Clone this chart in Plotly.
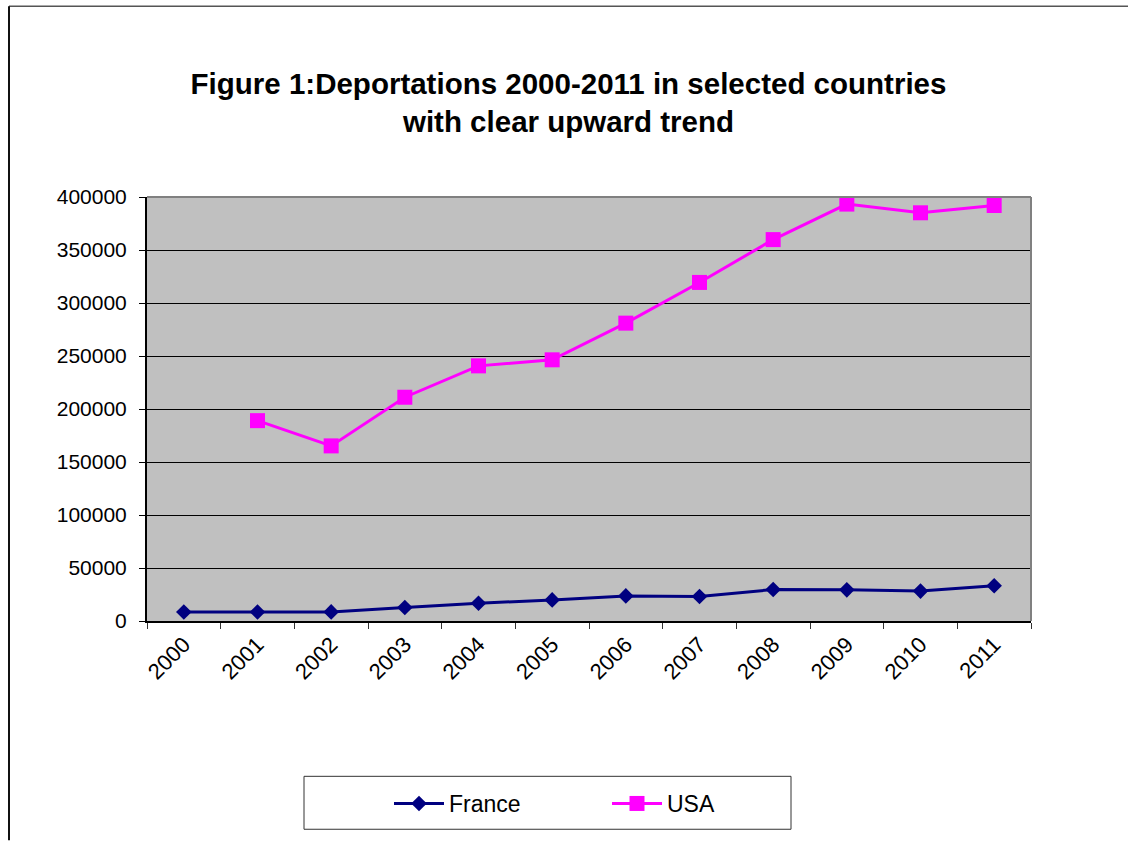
import plotly.graph_objects as go

# Deportations by year
years = ["2000", "2001", "2002", "2003", "2004", "2005",
         "2006", "2007", "2008", "2009", "2010", "2011"]
france = [8500, 8500, 8600, 12700, 16800, 19900,
          23700, 23100, 29700, 29400, 28200, 33200]
usa = [None, 189000, 165200, 211100, 240700, 246400,
       281000, 319400, 359800, 393300, 385100, 392000]

y_ticks = [0, 50000, 100000, 150000, 200000, 250000, 300000, 350000, 400000]

W, H = 1129, 841
L, R, T, B = 147, 1031, 197, 621.5
FONT = "Liberation Sans, Arial, sans-serif"


def px_x(x):
    return (x - L) / (R - L)


def px_y(y):
    return (B - y) / (B - T)


fig = go.Figure()
fig.add_trace(go.Scatter(
    x=years, y=france, name="France", mode="lines+markers",
    line=dict(color="#000080", width=3),
    marker=dict(symbol="diamond", size=12, color="#000080"),
))
fig.add_trace(go.Scatter(
    x=years, y=usa, name="USA", mode="lines+markers",
    line=dict(color="#FF00FF", width=3),
    marker=dict(symbol="square", size=15, color="#FF00FF"),
))

shapes = [
    # plot area frame: top and right edges
    dict(type="line", xref="paper", yref="paper", x0=0, x1=1, y0=1, y1=1,
         line=dict(color="#808080", width=2), layer="above"),
    dict(type="line", xref="paper", yref="paper", x0=1, x1=1, y0=0, y1=1,
         line=dict(color="#808080", width=2), layer="above"),
    # outer chart frame
    dict(type="line", xref="paper", yref="paper",
         x0=px_x(9), x1=px_x(1128), y0=px_y(6), y1=px_y(6),
         line=dict(color="#555555", width=1.5)),
    dict(type="line", xref="paper", yref="paper",
         x0=px_x(9), x1=px_x(9), y0=px_y(6), y1=px_y(841),
         line=dict(color="#111111", width=2)),
    # legend box
    dict(type="rect", xref="paper", yref="paper",
         x0=px_x(304), x1=px_x(791), y0=px_y(777), y1=px_y(830),
         line=dict(color="#333333", width=1), fillcolor="white", layer="below"),
]

fig.update_layout(
    width=W, height=H,
    margin=dict(l=L, r=W - R, t=T, b=H - B),
    paper_bgcolor="white",
    plot_bgcolor="#C0C0C0",
    font=dict(family=FONT, color="black", size=21),
    title=dict(
        text="<b>Figure 1:Deportations 2000-2011 in selected countries<br>with clear upward trend</b>",
        font=dict(family=FONT, size=29.5, color="black"),
        x=568.5 / W, xanchor="center", xref="container",
        y=1 - 94 / H, yanchor="top", yref="container",
    ),
    xaxis=dict(
        type="category", tickson="boundaries", ticks="outside", ticklen=6,
        tickcolor="#333333", tickangle=-45, showgrid=False,
        showline=True, linecolor="black", linewidth=2,
        tickfont=dict(family=FONT, size=22, color="black"),
        range=[-0.5, 11.5], fixedrange=True,
    ),
    yaxis=dict(
        range=[0, 400000], tickvals=y_ticks, ticktext=[str(v) for v in y_ticks],
        ticks="outside", ticklen=6, tickcolor="black",
        showgrid=True, gridcolor="black", gridwidth=1,
        showline=True, linecolor="black", linewidth=2,
        zeroline=False, ticklabelstandoff=8,
        tickfont=dict(family=FONT, size=21, color="black"),
    ),
    legend=dict(
        orientation="h", xref="container", yref="container",
        x=389 / W, xanchor="left", y=1 - 782 / H, yanchor="top",
        bgcolor="rgba(0,0,0,0)", borderwidth=0,
        font=dict(family=FONT, size=23, color="black"),
        entrywidth=153, itemwidth=50,
    ),
    shapes=shapes,
    showlegend=True,
)

fig.write_html("out.html")
